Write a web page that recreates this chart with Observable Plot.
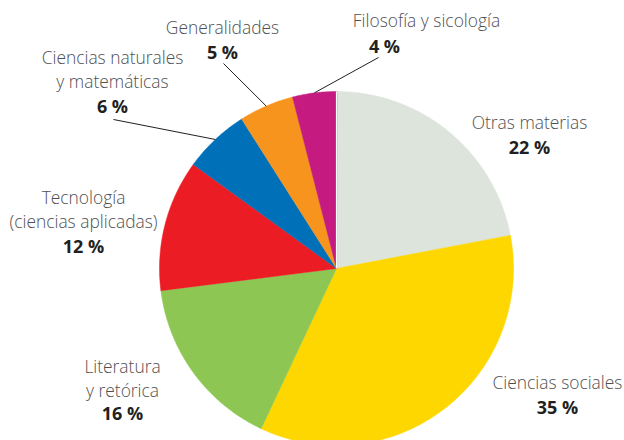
<!DOCTYPE html>
<html>
<head>
<meta charset="utf-8">
<script src="https://cdn.jsdelivr.net/npm/d3@7"></script>
<script src="https://cdn.jsdelivr.net/npm/@observablehq/plot@0.6"></script>
<style>
  html, body { margin: 0; padding: 0; background: #fff; overflow: hidden; }
  #chart svg { display: block; }
</style>
</head>
<body>
<div id="chart"></div>
<script>
// ---- data ----
const categories = [
  "Otras materias",
  "Ciencias sociales",
  "Literatura y retórica",
  "Tecnología (ciencias aplicadas)",
  "Ciencias naturales y matemáticas",
  "Generalidades",
  "Filosofía y sicología"
];
const values = [22, 35, 16, 12, 6, 5, 4];
const labelLines = [
  ["Otras materias"],
  ["Ciencias sociales"],
  ["Literatura", "y retórica"],
  ["Tecnología", "(ciencias aplicadas)"],
  ["Ciencias naturales", "y matemáticas"],
  ["Generalidades"],
  ["Filosofía y sicología"]
];
const percentLabels = values.map(v => `${v} %`);

// ---- styles ----
const colors = ["#dce4dc", "#fed700", "#8dc653", "#ec1c24", "#0070b9", "#f7941d", "#c51b80"];

// ---- layout (pixels) ----
const W = 624, H = 440;
const CX = 336, CY = 268, R = 177;
const LH = 24;
// name x, first baseline, percent x, percent baseline, leader start (or null)
const labelLayout = [
  {nx: 529, ny: 128, px: 529, py: 153, lead: null},
  {nx: 557, ny: 388, px: 557, py: 413, lead: null},
  {nx: 122, ny: 372, px: 122, py: 419, lead: null},
  {nx: 83,  ny: 203, px: 83,  py: 252, lead: null},
  {nx: 112, ny: 63,  px: 112, py: 112, lead: [113, 119]},
  {nx: 222, ny: 33,  px: 222, py: 58,  lead: [223, 63]},
  {nx: 426, ny: 26,  px: 384, py: 52,  lead: [378, 57]}
];
// pixel -> unit (pie radius = 1, y up)
const ux = p => (p - CX) / R;
const uy = p => (CY - p) / R;

// ---- pie geometry from values ----
const arcs = d3.pie().sort(null).value(d => d)(values);
const piePts = [];
arcs.forEach((a, i) => {
  piePts.push({name: categories[i], x: 0, y: 0});
  const n = Math.max(2, Math.ceil((a.endAngle - a.startAngle) / 0.01));
  for (let k = 0; k <= n; k++) {
    const t = a.startAngle + (a.endAngle - a.startAngle) * k / n;
    piePts.push({name: categories[i], x: Math.sin(t), y: Math.cos(t)});
  }
});
// thin white separator at the start of the first slice
const separator = [{x1: 0, y1: 0, x2: Math.sin(arcs[0].startAngle), y2: Math.cos(arcs[0].startAngle)}];

const nameRows = [];
const pctRows = [];
const leaders = [];
labelLayout.forEach((L, i) => {
  labelLines[i].forEach((t, j) => nameRows.push({x: ux(L.nx), y: uy(L.ny + j * LH), text: t}));
  pctRows.push({x: ux(L.px), y: uy(L.py), text: percentLabels[i]});
  if (L.lead) {
    const mid = (arcs[i].startAngle + arcs[i].endAngle) / 2;
    leaders.push({x1: ux(L.lead[0]), y1: uy(L.lead[1]), x2: Math.sin(mid), y2: Math.cos(mid)});
  }
});

const chart = Plot.plot({
  width: W,
  height: H,
  margin: 0,
  x: {domain: [ux(0), ux(W)], axis: null},
  y: {domain: [uy(H), uy(0)], axis: null},
  color: {domain: categories, range: colors},
  style: {fontFamily: "'Open Sans', sans-serif", background: "#fff", overflow: "hidden"},
  marks: [
    Plot.line(piePts, {x: "x", y: "y", z: "name", fill: "name", stroke: "name", strokeWidth: 0.5, curve: "linear-closed", clip: true}),
    Plot.link(separator, {x1: "x1", y1: "y1", x2: "x2", y2: "y2", stroke: "#fff", strokeWidth: 1.2}),
    Plot.link(leaders, {x1: "x1", y1: "y1", x2: "x2", y2: "y2", stroke: "#231f20", strokeWidth: 1}),
    Plot.text(nameRows, {x: "x", y: "y", text: "text", fill: "#505052", fontSize: 17.4, fontWeight: 300, textAnchor: "middle", lineAnchor: "bottom"}),
    Plot.text(pctRows, {x: "x", y: "y", text: "text", fill: "#231f20", fontSize: 18, fontWeight: 700, textAnchor: "middle", lineAnchor: "bottom"})
  ]
});
document.getElementById("chart").appendChild(chart);
</script>
</body>
</html>
